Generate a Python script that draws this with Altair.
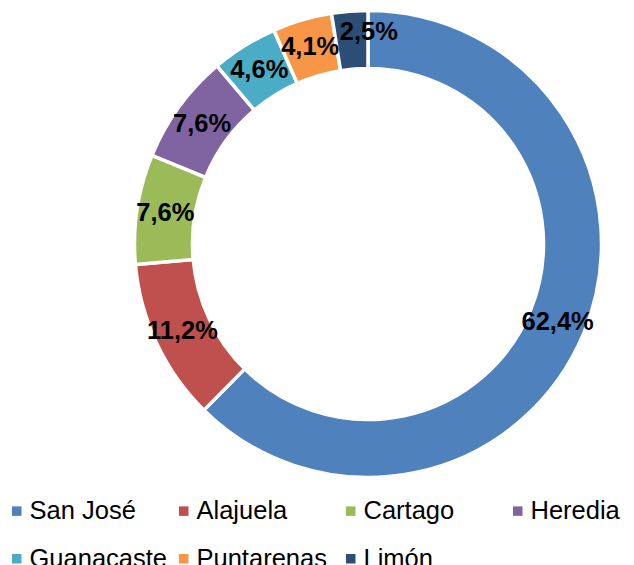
import altair as alt
import pandas as pd

regions = ["San José", "Alajuela", "Cartago", "Heredia", "Guanacaste", "Puntarenas", "Limón"]
values = [62.4, 11.2, 7.6, 7.6, 4.6, 4.1, 2.5]
colors = ["#4F81BD", "#C0504D", "#9BBB59", "#8064A2", "#4BACC6", "#F79646", "#2C4D75"]

df = pd.DataFrame({
    "region": regions,
    "value": values,
    "order": list(range(len(regions))),
    "label": [f"{v:.1f}".replace(".", ",") + "%" for v in values],
})

FONT = "Arial, Liberation Sans, sans-serif"
CX, CY = 360, 236
NUDGED = "Limón"  # label nudged outward like the original, to avoid overlap

arc = alt.Chart(df).mark_arc(
    innerRadius=175.5, outerRadius=233.5, stroke="white", strokeWidth=3.5, x=CX, y=CY
).encode(
    theta=alt.Theta("value:Q", stack=True),
    order=alt.Order("order:Q"),
    color=alt.Color(
        "region:N",
        sort=regions,
        scale=alt.Scale(domain=regions, range=colors),
        legend=alt.Legend(
            title=None,
            orient="none",
            legendX=-4,
            legendY=490,
            direction="horizontal",
            columns=4,
            gridAlign="all",
            symbolType="square",
            symbolSize=90,
            symbolStrokeWidth=0,
            labelFontSize=25.5,
            labelFont=FONT,
            labelColor="black",
            labelOffset=0,
            columnPadding=3,
            rowPadding=21,
            padding=0,
            labelLimit=300,
        ),
    ),
)

text_main = alt.Chart(df).mark_text(
    radius=205, fontSize=25.5, fontWeight="bold", font=FONT, color="black", x=CX, y=CY
).encode(
    theta=alt.Theta("value:Q", stack=True),
    order=alt.Order("order:Q"),
    text="label:N",
    opacity=alt.condition(alt.datum.region == NUDGED, alt.value(0), alt.value(1)),
)

text_nudged = alt.Chart(df).mark_text(
    radius=205, fontSize=25.5, fontWeight="bold", font=FONT, color="black", x=CX, y=CY,
    dx=17, dy=-8,
).encode(
    theta=alt.Theta("value:Q", stack=True),
    order=alt.Order("order:Q"),
    text="label:N",
    opacity=alt.condition(alt.datum.region == NUDGED, alt.value(1), alt.value(0)),
)

chart = (arc + text_main + text_nudged).properties(
    width=618, height=557, padding=0, autosize=alt.AutoSizeParams(type="none")
).configure_view(stroke=None)

chart.save("out.html", embed_options={"renderer": "svg", "actions": False})
